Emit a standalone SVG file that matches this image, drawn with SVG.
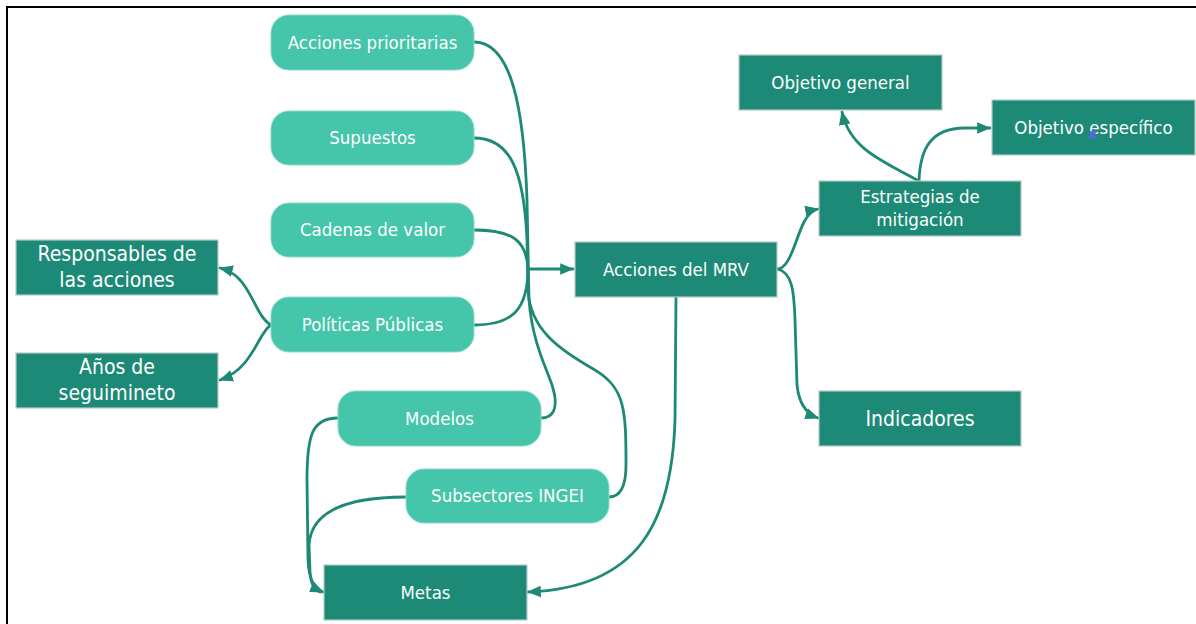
<svg xmlns="http://www.w3.org/2000/svg" width="1196" height="624" viewBox="0 0 1196 624">
<defs>
<marker id="ah" viewBox="0 0 12 10" refX="11" refY="5" markerWidth="14" markerHeight="12" markerUnits="userSpaceOnUse" orient="auto">
<path d="M0,0 L12,5 L0,10 z" fill="#1e8a76"/>
</marker>
<style>
.lt{fill:#45c5a9;stroke:#8fd9c8;stroke-width:1}
.dk{fill:#1c8a76;stroke:#b9c9c5;stroke-width:1.2}
.t{font-family:"DejaVu Sans Condensed","DejaVu Sans",sans-serif;fill:#ffffff;text-anchor:middle;font-size:18.5px}
.tb{font-size:21px}
.c{fill:none;stroke:#1e8a76;stroke-width:2.8;stroke-linecap:round}
.a{marker-end:url(#ah)}
</style>
</defs>
<rect width="1196" height="624" fill="#ffffff"/>
<path d="M7,624 L7,7 L1196,7" fill="none" stroke="#000000" stroke-width="2"/>

<g id="connectors">
<path class="c" d="M474,42 C512,42 524,110 527,200 L529,300 C532,340 545,365 552,385 C560,410 552,418 541,418"/>
<path class="c" d="M474,138 C510,138 524,170 527,240 L528,290 C530,330 560,350 595,370 C625,388 626,410 626,465 C626,490 618,497 609,497"/>
<path class="c" d="M474,230 C512,230 526,240 528,268"/>
<path class="c" d="M474,325 C512,325 528,310 528,268"/>
<path class="c a" d="M528,269 L573,269"/>
<path class="c a" d="M338,418 C312,418 307,435 307,480 L308,560 C309,580 314,588 323,592"/>
<path class="c" d="M406,497 C350,497 311,510 309,545 L310,572 C311,586 315,590 320,592"/>
<path class="c a" d="M676,297 L675,420 C672,520 640,588 528,592"/>
<path class="c a" d="M777,269 C790,269 795,240 804,222 C809,213 813,210 818,209"/>
<path class="c a" d="M777,269 C792,272 794,290 795,320 L797,385 C799,405 807,414 818,418"/>
<path class="c a" d="M919,181 C885,162 850,150 842,112"/>
<path class="c a" d="M919,181 C920,150 930,128 965,128 L990,128"/>
<path class="c a" d="M271,325 C258,318 252,292 240,280 C234,273 228,270 220,268"/>
<path class="c a" d="M271,325 C258,332 254,368 220,380"/>
</g>

<g id="n-acciones-prioritarias"><rect class="lt" x="271" y="15" width="203" height="55" rx="18"/><text class="t" x="372.5" y="48.5">Acciones prioritarias</text></g>
<g id="n-supuestos"><rect class="lt" x="271" y="111" width="203" height="54" rx="18"/><text class="t" x="372.5" y="144">Supuestos</text></g>
<g id="n-cadenas"><rect class="lt" x="271" y="203" width="203" height="54" rx="18"/><text class="t" x="372.5" y="236">Cadenas de valor</text></g>
<g id="n-politicas"><rect class="lt" x="271" y="297" width="203" height="55" rx="18"/><text class="t" x="372.5" y="330.5">Políticas Públicas</text></g>
<g id="n-modelos"><rect class="lt" x="338" y="391" width="203" height="55" rx="18"/><text class="t" x="439.5" y="424.5">Modelos</text></g>
<g id="n-subsectores"><rect class="lt" x="406" y="469" width="203" height="54" rx="18"/><text class="t" x="507.5" y="502">Subsectores INGEI</text></g>

<g id="n-metas"><rect class="dk" x="324" y="565" width="203" height="55"/><text class="t" x="425.5" y="598.5">Metas</text></g>
<g id="n-responsables"><rect class="dk" x="16" y="240" width="202" height="55"/><text class="t tb" x="117" y="261">Responsables de</text><text class="t tb" x="117" y="287">las acciones</text></g>
<g id="n-anos"><rect class="dk" x="16" y="353" width="202" height="55"/><text class="t tb" x="117" y="374">Años de</text><text class="t tb" x="117" y="400">seguimineto</text></g>
<g id="n-mrv"><rect class="dk" x="575" y="242" width="202" height="55"/><text class="t" x="676" y="275.5">Acciones del MRV</text></g>
<g id="n-estrategias"><rect class="dk" x="819" y="181" width="202" height="55"/><text class="t" x="920" y="203">Estrategias de</text><text class="t" x="920" y="226">mitigación</text></g>
<g id="n-objetivo-general"><rect class="dk" x="739" y="55" width="203" height="55"/><text class="t" x="840.5" y="88.5">Objetivo general</text></g>
<g id="n-objetivo-especifico"><rect class="dk" x="992" y="100" width="203" height="55"/><text class="t" x="1093.5" y="133.5">Objetivo específico</text><path d="M1093,128 L1098,138 L1088,138 z" fill="#4a6cd4"/></g>
<g id="n-indicadores"><rect class="dk" x="819" y="391" width="202" height="55"/><text class="t tb" x="920" y="425.5">Indicadores</text></g>
</svg>
